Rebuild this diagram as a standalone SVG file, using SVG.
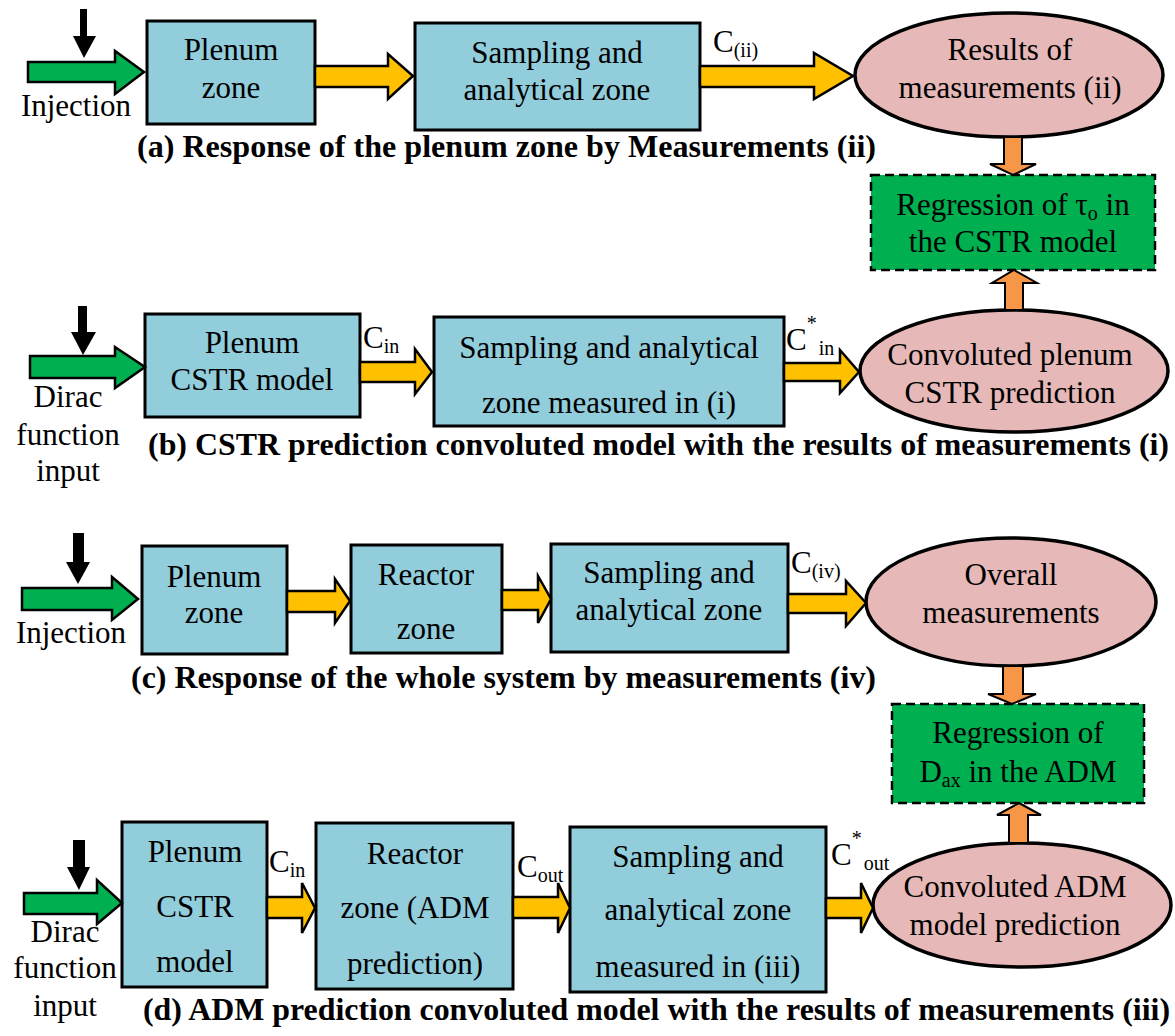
<svg xmlns="http://www.w3.org/2000/svg" width="1175" height="1036" viewBox="0 0 1175 1036">
<style>
.t{font-family:"Liberation Serif","Times New Roman",serif;font-size:31px;fill:#000}
.c{text-anchor:middle}
.cap{font-family:"Liberation Serif","Times New Roman",serif;font-size:32px;font-weight:bold;fill:#000}
.s{font-size:20px}
.box{fill:#92CDDC;stroke:#000;stroke-width:3}
.ell{fill:#E6B8B7;stroke:#000;stroke-width:3.5}
.reg{fill:#00B050;stroke:#000;stroke-width:2.5;stroke-dasharray:9 5}
.ga{fill:#00B050;stroke:#000;stroke-width:2.5;stroke-linejoin:miter}
.ya{fill:#FFC000;stroke:#000;stroke-width:2.5;stroke-linejoin:miter}
.oa{fill:#F79646;stroke:#000;stroke-width:2;stroke-linejoin:miter}
.ba{fill:#000}
</style>
<rect width="1175" height="1036" fill="#fff"/>

<!-- ===== (a) ===== -->
<g id="a_plenum"><rect class="box" x="147" y="21" width="168" height="103"/><text class="t c" x="231" y="60">Plenum</text><text class="t c" x="231" y="98">zone</text></g>
<g id="a_sampling"><rect class="box" x="415" y="23" width="285" height="107"/><text class="t c" x="557" y="63">Sampling and</text><text class="t c" x="557" y="100">analytical zone</text></g>
<g id="a_results"><ellipse class="ell" cx="1009" cy="75" rx="154" ry="62"/><text class="t c" x="1010" y="60">Results of</text><text class="t c" x="1010" y="98">measurements (ii)</text></g>
<g id="a_regression"><rect class="reg" x="871" y="175" width="284" height="95"/><text class="t c" x="1013" y="215">Regression of τ<tspan class="s" dy="5">o</tspan><tspan dy="-5"> in</tspan></text><text class="t c" x="1013" y="252">the CSTR model</text></g>
<g id="a_injection"><text class="t c" x="76" y="116">Injection</text></g>
<text class="cap" x="137" y="157" textLength="739" lengthAdjust="spacingAndGlyphs">(a) Response of the plenum zone by Measurements (ii)</text>

<!-- ===== (b) ===== -->
<g id="b_plenum"><rect class="box" x="145" y="314" width="215" height="103"/><text class="t c" x="252" y="353">Plenum</text><text class="t c" x="252" y="390">CSTR model</text></g>
<g id="b_sampling"><rect class="box" x="434" y="317" width="350" height="109"/><text class="t c" x="609" y="358">Sampling and analytical</text><text class="t c" x="609" y="413">zone measured in (i)</text></g>
<g id="b_convoluted"><ellipse class="ell" cx="1014" cy="371" rx="154" ry="61"/><text class="t c" x="1010" y="365">Convoluted plenum</text><text class="t c" x="1010" y="403">CSTR prediction</text></g>
<g id="b_dirac"><text class="t c" x="68" y="407">Dirac</text><text class="t c" x="68" y="445">function</text><text class="t c" x="68" y="481">input</text></g>
<text class="cap" x="148" y="455" textLength="1021" lengthAdjust="spacingAndGlyphs">(b) CSTR prediction convoluted model with the results of measurements (i)</text>

<!-- ===== (c) ===== -->
<g id="c_plenum"><rect class="box" x="142" y="546" width="145" height="108"/><text class="t c" x="214" y="587">Plenum</text><text class="t c" x="214" y="623">zone</text></g>
<g id="c_reactor"><rect class="box" x="351" y="545" width="151" height="108"/><text class="t c" x="426" y="585">Reactor</text><text class="t c" x="426" y="639">zone</text></g>
<g id="c_sampling"><rect class="box" x="551" y="544" width="237" height="108"/><text class="t c" x="669" y="583">Sampling and</text><text class="t c" x="669" y="620">analytical zone</text></g>
<g id="c_overall"><ellipse class="ell" cx="1011" cy="602" rx="145" ry="64"/><text class="t c" x="1011" y="585">Overall</text><text class="t c" x="1011" y="623">measurements</text></g>
<g id="c_regression"><rect class="reg" x="892" y="704" width="252" height="99"/><text class="t c" x="1018" y="743">Regression of</text><text class="t c" x="1018" y="782">D<tspan class="s" dy="5">ax</tspan><tspan dy="-5"> in the ADM</tspan></text></g>
<g id="c_injection"><text class="t c" x="71" y="643">Injection</text></g>
<text class="cap" x="131" y="688" textLength="745" lengthAdjust="spacingAndGlyphs">(c) Response of the whole system by measurements (iv)</text>

<!-- ===== (d) ===== -->
<g id="d_plenum"><rect class="box" x="122" y="822" width="145" height="165"/><text class="t c" x="195" y="862">Plenum</text><text class="t c" x="195" y="917">CSTR</text><text class="t c" x="195" y="972">model</text></g>
<g id="d_reactor"><rect class="box" x="316" y="823" width="197" height="166"/><text class="t c" x="415" y="864">Reactor</text><text class="t c" x="415" y="918">zone (ADM</text><text class="t c" x="415" y="974">prediction)</text></g>
<g id="d_sampling"><rect class="box" x="570" y="827" width="256" height="165"/><text class="t c" x="698" y="867">Sampling and</text><text class="t c" x="698" y="920">analytical zone</text><text class="t c" x="698" y="977">measured in (iii)</text></g>
<g id="d_convoluted"><ellipse class="ell" cx="1022" cy="905" rx="149" ry="62"/><text class="t c" x="1015" y="897">Convoluted ADM</text><text class="t c" x="1015" y="935">model prediction</text></g>
<g id="d_dirac"><text class="t c" x="65" y="942">Dirac</text><text class="t c" x="65" y="978">function</text><text class="t c" x="65" y="1016">input</text></g>
<text class="cap" x="143" y="1020" textLength="1027" lengthAdjust="spacingAndGlyphs">(d) ADM prediction convoluted model with the results of measurements (iii)</text>

<!-- ===== connectors ===== -->
<g id="connectors">
  <!-- (a) -->
  <polygon class="ba" points="80,9 87,9 87,36 96,36 84,58 73,36 80,36"/>
  <polygon class="ga" points="28,62 115,62 115,51 144,72 115,94 115,82 28,82"/>
  <polygon class="ya" points="315,66 388,66 388,54 413,76 388,99 388,87 315,87"/>
  <polygon class="ya" points="700,66 814,66 814,53 853,76 814,99 814,87 700,87"/>
  <text class="t" x="713" y="52">C<tspan class="s" dy="5">(ii)</tspan></text>
  <polygon class="oa" points="1004,137 1022,137 1022,164 1036,164 1013,175 990,164 1004,164"/>
  <polygon class="oa" points="1005,310 1023,310 1023,283 1037,283 1014,270 992,283 1005,283"/>
  <!-- (b) -->
  <polygon class="ba" points="78,306 87,306 87,332 96,332 83,355 71,332 78,332"/>
  <polygon class="ga" points="30,356 115,356 115,347 145,367 115,388 115,378 30,378"/>
  <polygon class="ya" points="360,362 415,362 415,349 432,372 415,394 415,382 360,382"/>
  <text class="t" x="363" y="348">C<tspan class="s" dy="5">in</tspan></text>
  <polygon class="ya" points="784,363 840,363 840,350 859,372 840,393 840,381 784,381"/>
  <text class="t" x="786" y="350">C<tspan class="s" dy="-20">*</tspan><tspan class="s" dx="2" dy="25">in</tspan></text>
  <!-- (c) -->
  <polygon class="ba" points="73,533 84,533 84,562 90,562 78,584 66,562 73,562"/>
  <polygon class="ga" points="22,588 112,588 112,577 138,599 112,620 112,610 22,610"/>
  <polygon class="ya" points="287,591 335,591 335,579 350,601 335,623 335,612 287,612"/>
  <polygon class="ya" points="502,590 538,590 538,576 551,599 538,623 538,610 502,610"/>
  <polygon class="ya" points="788,594 846,594 846,581 866,603 846,626 846,613 788,613"/>
  <text class="t" x="791" y="573">C<tspan class="s" dy="5">(iv)</tspan></text>
  <polygon class="oa" points="1003,666 1023,666 1023,694 1036,694 1012,704 988,694 1003,694"/>
  <polygon class="oa" points="1009,843 1028,843 1028,815 1041,815 1019,803 997,815 1009,815"/>
  <!-- (d) -->
  <polygon class="ba" points="73,840 85,840 85,867 90,867 79,890 67,867 73,867"/>
  <polygon class="ga" points="24,893 97,893 97,880 122,903 97,924 97,914 24,914"/>
  <polygon class="ya" points="267,897 302,897 302,883 315,908 302,933 302,918 267,918"/>
  <text class="t" x="269" y="872">C<tspan class="s" dy="5">in</tspan></text>
  <polygon class="ya" points="513,897 558,897 558,883 570,908 558,933 558,918 513,918"/>
  <text class="t" x="517" y="877">C<tspan class="s" dy="5">out</tspan></text>
  <polygon class="ya" points="826,898 861,898 861,883 873,908 861,933 861,918 826,918"/>
  <text class="t" x="831" y="865">C<tspan class="s" dy="-20">*</tspan><tspan class="s" dx="2" dy="25">out</tspan></text>
</g>
</svg>
